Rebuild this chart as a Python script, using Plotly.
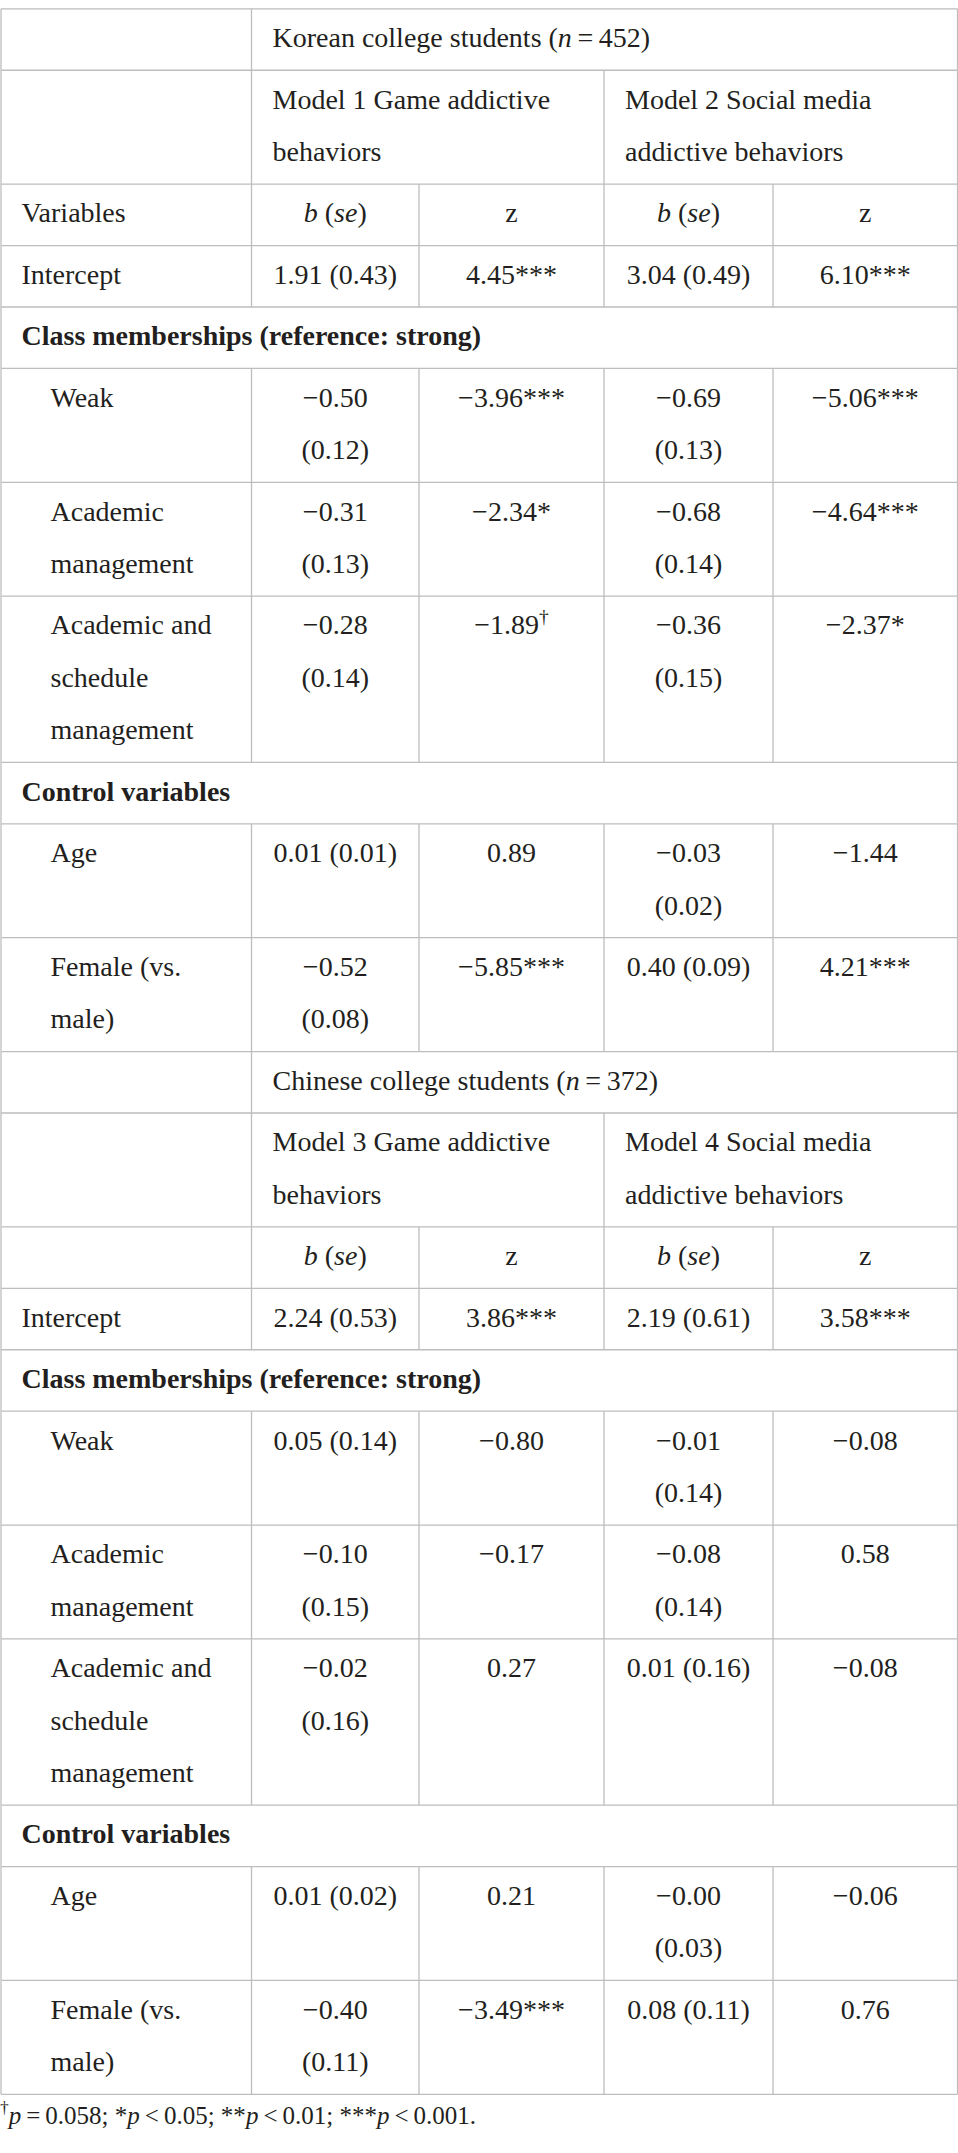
import plotly.graph_objects as go

# ---------------- data ----------------
group_names = ["Korean college students", "Chinese college students"]
group_n = [452, 372]
model_titles = [
    ["Model 1 Game addictive\nbehaviors", "Model 2 Social media\naddictive behaviors"],
    ["Model 3 Game addictive\nbehaviors", "Model 4 Social media\naddictive behaviors"],
]
colhead_label = ["Variables", ""]
section_titles = ["Class memberships (reference: strong)", "Control variables"]
intercept_label = "Intercept"
class_vars = ["Weak", "Academic\nmanagement", "Academic and\nschedule\nmanagement"]
control_vars = ["Age", "Female (vs.\nmale)"]

# order: Intercept, Weak, Academic mgmt, Academic & schedule mgmt, Age, Female
m1_b = [1.91, -0.50, -0.31, -0.28, 0.01, -0.52]
m1_se = [0.43, 0.12, 0.13, 0.14, 0.01, 0.08]
m1_z = [4.45, -3.96, -2.34, -1.89, 0.89, -5.85]
m1_sig = ["***", "***", "*", "†", "", "***"]

m2_b = [3.04, -0.69, -0.68, -0.36, -0.03, 0.40]
m2_se = [0.49, 0.13, 0.14, 0.15, 0.02, 0.09]
m2_z = [6.10, -5.06, -4.64, -2.37, -1.44, 4.21]
m2_sig = ["***", "***", "***", "*", "", "***"]

m3_b = [2.24, 0.05, -0.10, -0.02, 0.01, -0.40]
m3_se = [0.53, 0.14, 0.15, 0.16, 0.02, 0.11]
m3_z = [3.86, -0.80, -0.17, 0.27, 0.21, -3.49]
m3_sig = ["***", "", "", "", "", "***"]

m4_b = [2.19, -0.01, -0.08, 0.01, -0.00, 0.08]
m4_se = [0.61, 0.14, 0.14, 0.16, 0.03, 0.11]
m4_z = [3.58, -0.08, 0.58, -0.08, -0.06, 0.76]
m4_sig = ["***", "", "", "", "", ""]

footnote = ("<sup>†</sup><i>p</i>\u2009=\u20090.058; *<i>p</i>\u2009&lt;\u20090.05; "
            "**<i>p</i>\u2009&lt;\u20090.01; ***<i>p</i>\u2009&lt;\u20090.001.")

# ---------------- layout constants ----------------
W, H = 958, 2153
FONT = "Liberation Serif"
FS = 28
FS_NOTE = 25
TXT = "#231f20"
LINE = "#bdbdbd"
col_x = [1, 251.5, 419, 604, 773, 957.5]
TOP = 8.8
LH = 52.4
PAD = 9.05
FIRST = 31.3
LEFT_PAD = 20.5
INDENT = 29

models = [[(m1_b, m1_se, m1_z, m1_sig), (m2_b, m2_se, m2_z, m2_sig)],
          [(m3_b, m3_se, m3_z, m3_sig), (m4_b, m4_se, m4_z, m4_sig)]]


def fmt(v):
    return f"{v:.2f}".replace("-", "\u2212")


def bse_lines(b, se):
    if fmt(b).startswith("\u2212"):
        return [fmt(b), f"({se:.2f})"]
    return [f"{fmt(b)} ({se:.2f})"]


def zline(z, sig):
    if sig == "†":
        return [fmt(z) + "<sup>†</sup>"]
    return [fmt(z) + sig]


centers = [(col_x[i] + col_x[i + 1]) / 2 for i in range(1, 5)]

rows = []  # each row: (vertical line indices, list of cells (x, lines, align))
for g in range(2):
    rows.append(([0, 1, 5], [(col_x[1] + LEFT_PAD + 0.5,
                              [f"{group_names[g]} (<i>n</i>\u2009=\u2009{group_n[g]})"], "l")]))
    rows.append(([0, 1, 3, 5], [(col_x[1] + LEFT_PAD + 0.5, model_titles[g][0].split("\n"), "l"),
                                (col_x[3] + LEFT_PAD + 0.5, model_titles[g][1].split("\n"), "l")]))
    hdr = [(col_x[0] + LEFT_PAD, [colhead_label[g]] if colhead_label[g] else [], "l")]
    for c in range(2):
        hdr.append((centers[2 * c], ["<i>b</i> (<i>se</i>)"], "c"))
        hdr.append((centers[2 * c + 1], ["z"], "c"))
    rows.append(([0, 1, 2, 3, 4, 5], hdr))

    labels_sections = {1: section_titles[0], 4: section_titles[1]}
    var_labels = [intercept_label] + class_vars + control_vars
    for i, lab in enumerate(var_labels):
        if i in labels_sections:
            rows.append(([0, 5], [(col_x[0] + LEFT_PAD, [f"<b>{labels_sections[i]}</b>"], "l")]))
        x0 = col_x[0] + LEFT_PAD + (INDENT if i > 0 else 0)
        cells = [(x0, lab.split("\n"), "l")]
        for c in range(2):
            b, se, z, sig = models[g][c]
            cells.append((centers[2 * c], bse_lines(b[i], se[i]), "c"))
            cells.append((centers[2 * c + 1], zline(z[i], sig[i]), "c"))
        rows.append(([0, 1, 2, 3, 4, 5], cells))

fig = go.Figure()
shapes = []
text_l = {"x": [], "y": [], "t": []}
text_c = {"x": [], "y": [], "t": []}

y = TOP
shapes.append(dict(type="line", x0=col_x[0], x1=col_x[5], y0=y, y1=y))
for vl, cells in rows:
    n = max(max(len(c[1]) for c in cells), 1)
    h = PAD + n * LH
    for (cx, lines, al) in cells:
        for k, ln in enumerate(lines):
            d = text_l if al == "l" else text_c
            d["x"].append(cx)
            d["y"].append(y + FIRST + k * LH)
            d["t"].append(ln)
    for vi in vl:
        shapes.append(dict(type="line", x0=col_x[vi], x1=col_x[vi], y0=y, y1=y + h))
    y += h
    shapes.append(dict(type="line", x0=col_x[0], x1=col_x[5], y0=y, y1=y))
table_bottom = y

for s in shapes:
    s.update(xref="x", yref="y", line=dict(color=LINE, width=1.3), layer="below")

fig.add_trace(go.Scatter(x=text_l["x"], y=text_l["y"], text=text_l["t"], mode="text",
                         textposition="middle right", hoverinfo="skip",
                         textfont=dict(family=FONT, size=FS, color=TXT), showlegend=False))
fig.add_trace(go.Scatter(x=text_c["x"], y=text_c["y"], text=text_c["t"], mode="text",
                         textposition="middle center", hoverinfo="skip",
                         textfont=dict(family=FONT, size=FS, color=TXT), showlegend=False))
fig.add_trace(go.Scatter(x=[0], y=[table_bottom + 23], text=[footnote], mode="text",
                         textposition="middle right", hoverinfo="skip",
                         textfont=dict(family=FONT, size=FS_NOTE, color=TXT), showlegend=False))

fig.update_layout(
    width=W, height=H,
    margin=dict(l=0, r=0, t=0, b=0),
    paper_bgcolor="white", plot_bgcolor="white",
    shapes=shapes,
    xaxis=dict(range=[0, W], visible=False, fixedrange=True),
    yaxis=dict(range=[H, 0], visible=False, fixedrange=True),
)

fig.write_html("out.html", config={"displayModeBar": False},
               post_script="document.body.style.margin='0';document.body.style.overflow='hidden';")
